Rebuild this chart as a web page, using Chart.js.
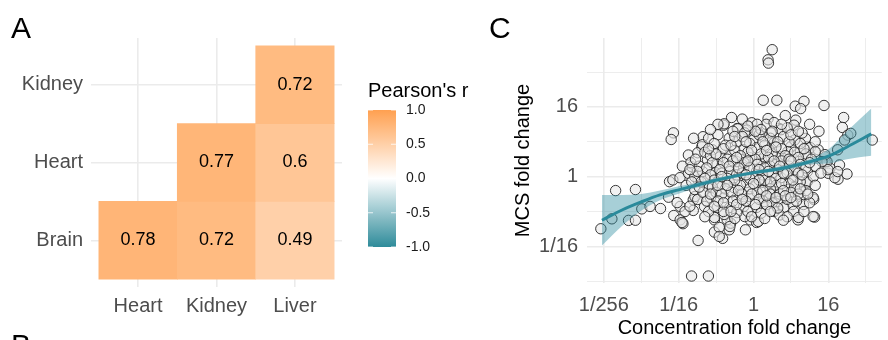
<!DOCTYPE html>
<html>
<head>
<meta charset="utf-8">
<script src="https://cdn.jsdelivr.net/npm/chart.js@4/dist/chart.umd.min.js"></script>
<style>
  html, body { margin: 0; padding: 0; background: #fff; overflow: hidden; width: 888px; height: 340px; }
  #boxA { position: absolute; left: 0; top: 0; width: 480px; height: 340px; }
  #boxC { position: absolute; left: 480px; top: 0; width: 408px; height: 340px; }
</style>
</head>
<body>
<div id="boxA"><canvas id="heat"></canvas></div>
<div id="boxC"><canvas id="scatter"></canvas></div>
<script>
Chart.defaults.font.family = "'Liberation Sans', Arial, sans-serif";
Chart.defaults.animation = false;

// panel A: correlation of tissues
var colTissues = ['Heart', 'Kidney', 'Liver'];
var rowTissues = ['Brain', 'Heart', 'Kidney'];
var brainR = [0.78, 0.72, 0.49];
var heartR = [null, 0.77, 0.6];
var kidneyR = [null, null, 0.72];
var legendBreaks = [1.0, 0.5, 0.0, -0.5, -1.0];

// panel C: log2 fold changes [concentration, MCS]
var concTickVals = [-8, -4, 0, 4];
var concTickLabels = ['1/256', '1/16', '1', '16'];
var mcsTickVals = [-4, 0, 4];
var mcsTickLabels = ['1/16', '1', '16'];
var minorVals = [-6, -2, 2, 6];

var mcsPoints = [
  [1.0,7.28],[0.78,6.7],[0.8,6.51],[0.52,4.38],[1.25,4.38],[0.78,3.33],[2.23,4.04],[2.7,4.32],[2.52,3.9],[3.77,4.08],
  [4.82,3.39],[4.75,2.82],[5.04,2.38],[6.35,2.1],[4.87,2.1],[5.2,2.48],[4.6,0.67],[5.0,0.15],[4.52,-0.15],[4.0,0.19],
  [4.09,0.48],[3.83,1.14],[3.83,0.86],[3.22,-1.3],[3.27,-2.32],[2.38,-2.48],[2.83,-0.34],[2.87,1.71],[2.78,2.19],[2.26,3.24],
  [2.17,2.95],[1.39,2.76],[-1.17,3.39],[-1.6,2.95],[-0.87,2.76],[-0.09,3.09],[-0.35,2.67],[0.23,2.55],[-4.28,2.51],[-4.4,2.13],
  [-2.7,2.29],[-2.76,1.71],
  [-8.16,-2.99],[-7.57,-2.42],[-7.37,-0.8],[-6.68,-2.51],[-6.31,-0.74],[-6.31,-2.5],[-5.97,-1.85],[-5.53,-1.71],[-4.97,-1.83],
  [-4.54,-1.18],[-4.49,-0.29],[-4.31,-0.19],[-3.93,-0.06],[-3.92,-1.71],[-4.26,-2.23],[-3.92,-2.48],[-3.77,-2.7],[-3.22,-1.94],
  [-3.22,-1.33],[-2.96,-3.66],[-3.31,-5.7],[-2.41,-5.7],[-2.09,-3.18],[-1.65,-3.54],[-1.3,-3.05],[-1.22,-2.67],[-0.43,-3.05],
  [-0.17,-2.48],[0.17,-2.63],[-2.09,-2.48],[-3.48,0.19],[-3.3,0.57],[-3.48,1.24],[-2.96,-0.19],[-3.13,-1.14],
  [-1.57,3.03],[-0.84,2.74],[-0.47,2.51],[-0.89,2.0],[0,2.11],[-2.98,1.37],[-2.2,1.54],[-1.78,1.14],[-1.26,1.26],[-0.52,1.54],
  [0.16,1.66],[-3.35,0.8],[-2.46,0.97],[-0.89,0.86],[-0.21,1.09],[-1.94,0.69],[0.42,0.97],[-2.72,1.83],
  [0.68,3.0],[0.94,2.51],[1.47,2.69],[0.52,2.29],[1.1,1.94],[1.99,1.71],[1.83,1.43],[0.84,1.54],[3.04,1.66],[2.51,1.43],
  [0.58,1.14],[1.47,1.14],[2.15,0.97],[2.88,1.09],[3.46,1.54],[3.93,0.86],[1.2,0.69],
  [-3.14,0],[-2.72,0.29],[-2.04,0.23],[-1.26,0.29],[-0.52,0.51],[0.16,0.29],[0.42,-0.34],[-0.37,-0.34],[-1.05,-0.63],[-1.78,-0.46],
  [-2.46,-0.57],[-3.14,-0.74],[-2.98,-1.31],[-2.3,-1.2],[-1.57,-1.2],[-0.89,-1.2],[-0.21,-1.14],[0.52,-1.2],[-2.62,-1.71],[-1.94,-1.77],
  [-1.26,-1.77],[-0.52,-1.71],[0.16,-1.77],[-2.09,-2.34],[-1.41,-2.46],[-0.47,-2.29],[0.26,-2.57],[-1.83,-2.91],[-1.26,-2.86],[-1.83,-3.43],
  [-1.57,-2.17],[-0.89,-2.06],
  [0.79,-0.46],[1.47,-0.06],[2.15,0],[2.88,-0.29],[2.88,0.29],[3.98,0.4],[4.35,-0.06],[1.1,-0.86],[1.83,-0.74],[2.51,-1.14],
  [3.19,-1.2],[0.58,-1.43],[1.31,-1.43],[2.09,-1.6],[2.67,-1.6],[1.1,-2.0],[2.15,-2.0],[2.41,-2.34],[3.19,-2.29],[0.84,-1.2],[1.62,-1.77],
  [4.5,1.54],[3.82,1.26],[3.3,1.43],[3.66,0.86],[4.5,0.29],[-3.82,-2.63],[-3.66,-2.0],[-4.08,-1.49],
  [-2.4,2.2],[-1.9,2.4],[-1.3,2.2],[-0.6,2.3],[0.3,2.4],[0.9,2.2],[1.6,2.3],[2.2,2.1],[-2.1,1.9],[-1.5,1.8],
  [-0.2,1.9],[0.6,1.8],[1.3,2.0],[1.9,2.0],[2.5,1.9],[3.3,2.0],
  [-2.6,1.4],[-1.6,1.6],[-1.0,1.5],[-0.3,1.4],[0.4,1.3],[1.0,1.3],[1.5,1.6],[2.2,1.4],[2.8,1.3],[-2.3,1.2],
  [-1.4,1.0],[-0.7,1.2],[0.1,1.0],[0.8,1.1],[1.7,1.2],[2.4,1.1],[3.1,1.0],
  [-2.9,0.6],[-2.2,0.8],[-1.6,0.8],[-1.1,0.9],[-0.5,0.8],[0.2,0.7],[0.9,0.6],[1.5,0.9],[1.9,0.6],[2.5,0.7],
  [3.3,0.6],[-2.5,0.5],[-1.3,0.6],[-0.2,0.5],[0.6,0.5],[1.3,0.4],[2.2,0.4],[2.8,0.5],
  [-3.0,0.3],[-2.3,0.1],[-1.7,0.2],[-0.9,0.1],[-0.6,0.2],[0.0,0.0],[0.5,0.1],[1.0,0.2],[1.2,-0.1],[1.8,0.2],
  [2.4,0.2],[3.2,0.0],[3.6,0.2],[-1.4,-0.1],[-0.2,-0.1],
  [-2.8,-0.3],[-2.1,-0.2],[-1.3,-0.3],[-0.7,-0.5],[0.1,-0.5],[0.6,-0.2],[1.2,-0.5],[1.9,-0.4],[2.5,-0.3],[3.3,-0.5],
  [-2.2,-0.6],[-1.5,-0.7],[-0.2,-0.7],[0.9,-0.7],[1.5,-0.4],[2.2,-0.6],
  [-2.7,-0.9],[-2.0,-0.9],[-1.2,-0.9],[-0.6,-1.0],[0.2,-0.9],[0.9,-1.0],[1.4,-1.0],[2.0,-0.9],[2.8,-0.8],[-1.7,-1.0],
  [-0.1,-1.0],[0.5,-0.8],[1.6,-0.8],[2.4,-1.0],
  [-2.5,-1.4],[-1.9,-1.4],[-1.1,-1.4],[-0.4,-1.4],[0.3,-1.3],[1.0,-1.5],[1.8,-1.3],[2.3,-1.4],[-0.9,-1.6],[0.7,-1.6],[3.0,-1.5],
  [-2.4,-2.0],[-1.6,-2.0],[-0.3,-2.0],[0.4,-2.1],[1.4,-2.2],[2.7,-2.0],[-1.0,-2.4],[0.6,-2.4],[1.8,-2.3],[-2.6,-2.3],
  [-1.9,3.0],[-0.6,3.3],[0.2,3.0],[1.1,3.1],[1.8,2.8],[-1.1,2.6],[0.4,2.7],[3.5,2.6],[3.0,3.0],[1.7,3.5],
  [-2.3,2.7],[-3.2,2.2],[-3.1,1.0],[-3.6,-0.5],[-3.8,0.6],[-3.4,-1.7],
  [-2.0,1.3],[-1.2,1.8],[-0.4,2.0],[0.5,2.0],[1.2,1.7],[2.0,2.4],[2.6,2.5],[-0.9,1.1],[-0.1,1.5],[0.7,1.5],
  [1.9,1.0],[2.7,1.6],[-1.8,0.4],[-0.8,0.5],[0.3,0.4],[1.1,0.9],[1.6,0.2],[2.1,-0.2],[2.6,0.1],[3.0,0.8],
  [-2.6,-0.1],[-1.9,-0.5],[-1.0,-0.2],[-0.4,0.1],[0.3,-0.2],[0.9,-0.3],[1.4,0.6],[2.0,0.9],[-2.3,-1.0],[-1.4,-0.5],
  [-0.8,-0.8],[0.0,-0.4],[0.7,-1.1],[1.2,-1.2],[1.7,-1.1],[2.5,-0.7],[-1.6,-1.5],[-0.6,-1.3],[0.1,-1.6],[1.3,-1.8],
  [2.0,-1.2],[-2.1,-1.7],[-1.2,-2.0],[-0.1,-2.3],[0.9,-2.0],[1.6,-2.5],[2.9,-1.0],[-1.7,0.0],[-0.3,0.9],[0.8,0.3],
  [-3.3,-0.3],[-2.9,-0.6],[-3.4,0.4],[-2.4,1.6],[-1.0,2.3],[0.1,2.6],[1.0,2.6],[1.5,3.0],[-0.3,2.9],[2.4,2.6]
];

// smoothed trend with confidence band (log2 units)
var smoothX     = [-8.1, -7, -6, -5, -4, -3, -2, -1, 0, 1, 2, 3, 4, 5, 6.3];
var smoothFit   = [-2.5, -1.9, -1.45, -1.05, -0.76, -0.48, -0.2, 0.03, 0.23, 0.38, 0.58, 0.85, 1.17, 1.7, 2.45];
var smoothUpper = [-1.05, -1.05, -1.0, -0.8, -0.55, -0.33, -0.08, 0.13, 0.33, 0.5, 0.72, 1.0, 1.55, 2.6, 3.9];
var smoothLower = [-3.95, -2.8, -1.95, -1.35, -0.98, -0.63, -0.33, -0.08, 0.12, 0.26, 0.43, 0.7, 0.75, 1.0, 1.2];

var orange = [255, 160, 80];
var teal = [46, 139, 154];

function fillFor(r) {
  var c = r >= 0 ? orange : teal;
  var t = Math.min(1, Math.abs(r));
  var rgb = [0, 1, 2].map(function (i) { return Math.round(255 + (c[i] - 255) * t); });
  return 'rgb(' + rgb.join(',') + ')';
}

var cells = [];
[brainR, heartR, kidneyR].forEach(function (row, i) {
  row.forEach(function (r, j) {
    if (r === null) return;
    cells.push({ x: j + 1, y: [i + 0.5, i + 1.5], r: r });
  });
});

var heatExtras = {
  id: 'heatExtras',
  afterDatasetsDraw: function (chart) {
    var ctx = chart.ctx;
    var meta = chart.getDatasetMeta(0);
    ctx.save();
    ctx.fillStyle = '#000';
    ctx.font = "18px 'Liberation Sans', Arial, sans-serif";
    ctx.textAlign = 'center';
    ctx.textBaseline = 'middle';
    meta.data.forEach(function (bar, i) {
      ctx.fillText(String(cells[i].r), bar.x, (bar.y + bar.base) / 2);
    });
    ctx.restore();
  },
  afterDraw: function (chart) {
    var ctx = chart.ctx;
    ctx.save();
    // panel letters
    ctx.fillStyle = '#000';
    ctx.font = "30px 'Liberation Sans', Arial, sans-serif";
    ctx.textAlign = 'left';
    ctx.textBaseline = 'alphabetic';
    ctx.fillText('A', 11, 38);
    ctx.fillText('B', 11, 355);
    // colour bar legend
    var bx = 368, bw = 28, top = 110, bottom = 247;
    var grad = ctx.createLinearGradient(0, top, 0, bottom);
    for (var k = 0; k <= 20; k++) {
      grad.addColorStop(k / 20, fillFor(1 - k / 10));
    }
    ctx.fillStyle = grad;
    ctx.fillRect(bx, top, bw, bottom - top);
    ctx.strokeStyle = 'rgba(255,255,255,0.8)';
    ctx.lineWidth = 1;
    ctx.font = "14px 'Liberation Sans', Arial, sans-serif";
    ctx.textBaseline = 'middle';
    legendBreaks.forEach(function (b) {
      var y = top + (1 - b) / 2 * (bottom - top);
      ctx.beginPath();
      ctx.moveTo(bx, y); ctx.lineTo(bx + 5, y);
      ctx.moveTo(bx + bw - 5, y); ctx.lineTo(bx + bw, y);
      ctx.stroke();
      ctx.fillStyle = '#1a1a1a';
      ctx.fillText(b.toFixed(1), 406, y);
    });
    ctx.fillStyle = '#000';
    ctx.font = "20px 'Liberation Sans', Arial, sans-serif";
    ctx.textBaseline = 'alphabetic';
    ctx.fillText("Pearson's r", 368, 97);
    ctx.restore();
  }
};

new Chart(document.getElementById('heat'), {
  type: 'bar',
  data: {
    datasets: [{
      data: cells,
      backgroundColor: function (c) { return c.raw ? fillFor(c.raw.r) : '#fff'; },
      borderWidth: 0,
      barPercentage: 1,
      categoryPercentage: 1
    }]
  },
  options: {
    responsive: true,
    maintainAspectRatio: false,
    layout: { padding: { top: 38, right: 138, left: 0, bottom: 0 } },
    plugins: { legend: { display: false }, tooltip: { enabled: false } },
    scales: {
      x: {
        type: 'linear', min: 0.4, max: 3.6, offset: false,
        afterBuildTicks: function (s) { s.ticks = [1, 2, 3].map(function (v) { return { value: v }; }); },
        afterFit: function (s) { s.height = 53; },
        grid: { color: '#ebebeb', lineWidth: 1.6, drawTicks: false, offset: false },
        border: { display: false },
        ticks: {
          padding: 7, color: '#4d4d4d', font: { size: 20 }, autoSkip: false, maxRotation: 0,
          callback: function (v) { return colTissues[v - 1]; }
        }
      },
      y: {
        type: 'linear', min: 0.4, max: 3.6, beginAtZero: false,
        afterBuildTicks: function (s) { s.ticks = [1, 2, 3].map(function (v) { return { value: v }; }); },
        afterFit: function (s) { s.width = 91; },
        grid: { color: '#ebebeb', lineWidth: 1.6, drawTicks: false },
        border: { display: false },
        ticks: {
          padding: 8, color: '#4d4d4d', font: { size: 20 }, autoSkip: false,
          callback: function (v) { return rowTissues[v - 1]; }
        }
      }
    }
  },
  plugins: [heatExtras]
});

function toXY(xs, ys) {
  return xs.map(function (x, i) { return { x: x, y: ys[i] }; });
}

function gridWidth(c) {
  return minorVals.indexOf(c.tick.value) >= 0 ? 0.9 : 1.6;
}

var letterC = {
  id: 'letterC',
  afterDraw: function (chart) {
    var ctx = chart.ctx;
    ctx.save();
    ctx.fillStyle = '#000';
    ctx.font = "30px 'Liberation Sans', Arial, sans-serif";
    ctx.fillText('C', 9, 38);
    ctx.restore();
  }
};

new Chart(document.getElementById('scatter'), {
  type: 'scatter',
  data: {
    datasets: [{
      type: 'line',
      data: toXY(smoothX, smoothFit),
      borderColor: '#2a8a9b',
      borderWidth: 3,
      pointRadius: 0,
      cubicInterpolationMode: 'monotone',
      fill: false,
      order: 0
    }, {
      type: 'line',
      data: toXY(smoothX, smoothUpper),
      borderWidth: 0,
      borderColor: 'rgba(0,0,0,0)',
      backgroundColor: 'rgba(45,140,160,0.42)',
      pointRadius: 0,
      cubicInterpolationMode: 'monotone',
      fill: '+1',
      order: 1
    }, {
      type: 'line',
      data: toXY(smoothX, smoothLower),
      borderWidth: 0,
      borderColor: 'rgba(0,0,0,0)',
      pointRadius: 0,
      cubicInterpolationMode: 'monotone',
      fill: false,
      order: 1
    }, {
      data: mcsPoints.map(function (p) { return { x: p[0], y: p[1] }; }),
      pointRadius: 5.2,
      borderWidth: 1,
      borderColor: 'rgba(35,35,35,0.9)',
      backgroundColor: 'rgba(232,232,232,0.6)',
      order: 2
    }]
  },
  options: {
    responsive: true,
    maintainAspectRatio: false,
    layout: { padding: { top: 38, right: 0, left: 0, bottom: 0 } },
    plugins: { legend: { display: false }, tooltip: { enabled: false } },
    scales: {
      x: {
        type: 'linear', min: -8.9, max: 6.86,
        afterBuildTicks: function (s) {
          s.ticks = concTickVals.concat(minorVals).sort(function (a, b) { return a - b; })
            .map(function (v) { return { value: v }; });
        },
        afterFit: function (s) { s.height = 57; },
        grid: { color: '#ebebeb', lineWidth: gridWidth, drawTicks: false },
        border: { display: false },
        ticks: {
          padding: 10, color: '#4d4d4d', font: { size: 20 }, autoSkip: false, maxRotation: 0,
          callback: function (v) { var i = concTickVals.indexOf(v); return i >= 0 ? concTickLabels[i] : ''; }
        },
        title: { display: true, text: 'Concentration fold change', color: '#000', font: { size: 20 }, padding: { top: 0, bottom: 0 } }
      },
      y: {
        type: 'linear', min: -6.1, max: 7.95,
        afterBuildTicks: function (s) {
          s.ticks = mcsTickVals.concat(minorVals).sort(function (a, b) { return a - b; })
            .map(function (v) { return { value: v }; });
        },
        afterFit: function (s) { s.width = 107; },
        grid: { color: '#ebebeb', lineWidth: gridWidth, drawTicks: false },
        border: { display: false },
        ticks: {
          padding: 9, color: '#4d4d4d', font: { size: 20 }, autoSkip: false,
          callback: function (v) { var i = mcsTickVals.indexOf(v); return i >= 0 ? mcsTickLabels[i] : ''; }
        },
        title: { display: true, text: 'MCS fold change', color: '#000', font: { size: 20 }, padding: { top: 31, bottom: 0 } }
      }
    }
  },
  plugins: [letterC]
});
</script>
</body>
</html>
